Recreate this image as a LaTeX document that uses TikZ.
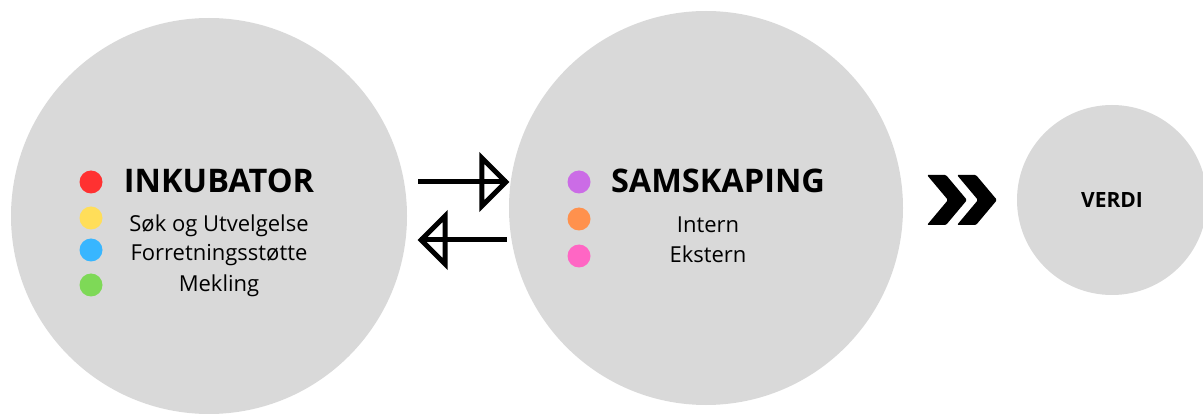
\documentclass[tikz,border=0pt]{standalone}
\usepackage{fontspec}
\setmainfont{Open Sans}
\usetikzlibrary{positioning,decorations.markings}
\definecolor{Disc}{HTML}{D9D9D9}
\definecolor{Rosso}{HTML}{FF3131}
\definecolor{Giallo}{HTML}{FFDE59}
\definecolor{Azzurro}{HTML}{38B6FF}
\definecolor{Verde}{HTML}{7ED957}
\definecolor{Viola}{HTML}{CB6CE6}
\definecolor{Arancio}{HTML}{FF914D}
\definecolor{Rosa}{HTML}{FF66C4}

\tikzset{
  disc/.style={circle,fill=Disc,inner sep=0pt},
  dot/.style={circle,minimum size=23pt,inner sep=0pt},
  head/.style={anchor=base,font=\fontsize{32.5}{38}\selectfont\bfseries},
  item/.style={anchor=base,font=\fontsize{22}{26}\selectfont},
  % open triangle head, the line runs on to its point
  flow/.style={line width=5pt,postaction={decorate},
    decoration={markings,mark=at position 1 with {\draw[line join=miter,miter limit=4] (-1,0) -- (-25,-24) -- (-25,24) -- cycle;}}},
  chevron/.pic={\fill[rounded corners=1.2pt] (0,-25) -- (19,-25) -- (40,0) -- (19,25) -- (0,25) -- (21,0) -- cycle;}
}

\begin{document}
\begin{tikzpicture}[x=1pt,y=-1pt]
        \useasboundingbox (0,0) rectangle (1203,414);
        % three circles
        \node[disc,minimum size=396pt] (inkubator) at (209,216) {};
        \node[disc,minimum size=394pt] (samskaping) at (706,208) {};
        \node[disc,minimum size=190pt] (verdi) at (1112,200) {};
        % inkubator list
        \node[dot,fill=Rosso] (d1) at (91,182) {};
        \node[dot,fill=Giallo] (d2) at (91,218) {};
        \node[dot,fill=Azzurro] (d3) at (91,250) {};
        \node[dot,fill=Verde] (d4) at (91,285) {};
        \node[head] (t1) at (219,193) {INKUBATOR};
        \node[item] (t2) at (219,232) {Søk og Utvelgelse};
        \node[item] (t3) at (219,261) {Forretningsstøtte};
        \node[item] (t4) at (219,292) {Mekling};
        % samskaping list
        \node[dot,fill=Viola] (d5) at (579,182) {};
        \node[dot,fill=Arancio] (d6) at (579,219) {};
        \node[dot,fill=Rosa] (d7) at (579,256) {};
        \node[head] (t5) at (718,193) {SAMSKAPING};
        \node[item] (t6) at (708,233) {Intern};
        \node[item] (t7) at (708,263) {Ekstern};
        \node[anchor=base,font=\fontsize{21}{25}\selectfont\bfseries] (t8) at (1112,208) {VERDI};
        % arrows between the circles
        \draw[flow] ([xshift=11pt]inkubator.east |- 0,182) -- ([xshift=-2pt]samskaping.west |- 0,182);
        \draw[flow] ([xshift=-2pt]samskaping.west |- 0,240) -- ([xshift=13pt]inkubator.east |- 0,240);
        \pic at (927,200) {chevron};
        \pic at (957,200) {chevron};
      \end{tikzpicture}
\end{document}
